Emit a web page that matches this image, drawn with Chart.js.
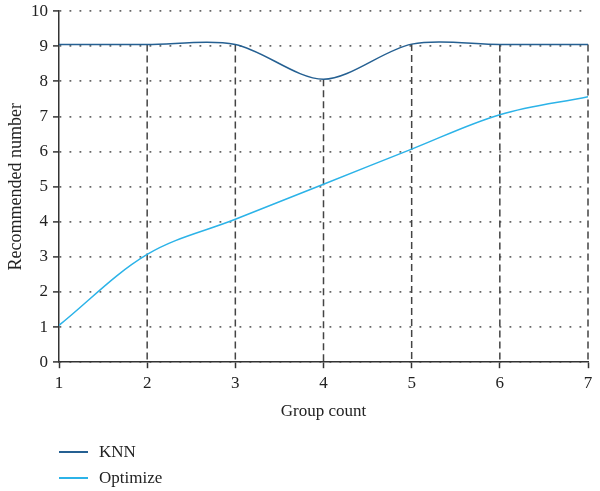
<!DOCTYPE html>
<html>
<head>
<meta charset="utf-8">
<script src="https://cdn.jsdelivr.net/npm/chart.js@4/dist/chart.umd.min.js"></script>
<style>
  body { margin: 0; background: #fff; }
  #wrap { position: relative; width: 600px; height: 491px; }
  #legend { position: absolute; left: 59px; top: 439px; font: 17px "Liberation Serif", serif; color: #222; }
  #legend div { height: 26px; display: flex; align-items: center; }
  #legend span.line { display: inline-block; width: 29px; height: 1.6px; margin-right: 11px; }
</style>
</head>
<body>
<div id="wrap">
  <canvas id="chart" width="600" height="491"></canvas>
  <div id="legend"></div>
</div>
<script>
  // Chart data
  const groupCounts = [1, 2, 3, 4, 5, 6, 7];
  const knnValues = [9.05, 9.05, 9.05, 8.06, 9.06, 9.05, 9.05];
  const optimizeValues = [1.05, 3.07, 4.07, 5.07, 6.07, 7.05, 7.56];
  const seriesNames = ["KNN", "Optimize"];
  const seriesColors = ["#256092", "#2cb3e8"];

  const serif = "'Liberation Serif', 'Times New Roman', serif";

  // Dashed drop lines from the KNN curve down to the x axis
  const dropLines = {
    id: "dropLines",
    beforeDatasetsDraw(chart) {
      const ctx = chart.ctx;
      const meta = chart.getDatasetMeta(0);
      const bottom = chart.chartArea.bottom;
      ctx.save();
      ctx.strokeStyle = "#444";
      ctx.lineWidth = 1.5;
      ctx.setLineDash([7, 4]);
      meta.data.forEach((pt, i) => {
        if (i === 0) return;
        ctx.beginPath();
        ctx.moveTo(pt.x, pt.y);
        ctx.lineTo(pt.x, bottom);
        ctx.stroke();
      });
      ctx.restore();
    }
  };

  const ctx = document.getElementById("chart").getContext("2d");
  new Chart(ctx, {
    type: "line",
    data: {
      datasets: [
        {
          label: seriesNames[0],
          data: groupCounts.map((x, i) => ({ x: x, y: knnValues[i] })),
          borderColor: seriesColors[0],
          borderWidth: 1.5,
          pointRadius: 0,
          tension: 0.3,
        },
        {
          label: seriesNames[1],
          data: groupCounts.map((x, i) => ({ x: x, y: optimizeValues[i] })),
          borderColor: seriesColors[1],
          borderWidth: 1.5,
          pointRadius: 0,
          tension: 0.35,
        },
      ],
    },
    options: {
      responsive: false,
      animation: false,
      layout: { padding: { top: 2, right: 12, left: 5, bottom: 69 } },
      plugins: { legend: { display: false }, tooltip: { enabled: false } },
      scales: {
        x: {
          type: "linear",
          min: 1,
          max: 7,
          ticks: { stepSize: 1, color: "#222", padding: 5, font: { family: serif, size: 17 } },
          grid: { drawOnChartArea: false, drawTicks: true, tickLength: 6, tickColor: "#333", tickWidth: 1.5 },
          border: { color: "#333", width: 1.5 },
          title: { display: true, text: "Group count", color: "#222", padding: { top: 3, bottom: 0 }, font: { family: serif, size: 17 } },
        },
        y: {
          min: 0,
          max: 10,
          ticks: { stepSize: 1, color: "#222", padding: 5, font: { family: serif, size: 17, lineHeight: 0.72 } },
          grid: { color: "#666", lineWidth: 1.8, tickLength: 6, tickColor: "#333", tickWidth: 1.5, tickBorderDash: [] },
          border: { color: "#333", width: 1.5, dash: [1.8, 8.2] },
          title: { display: true, text: "Recommended number", color: "#222", padding: { top: 0, bottom: 8 }, font: { family: serif, size: 18 } },
          afterFit(scale) { scale.width = 54; },
        },
      },
    },
    plugins: [dropLines],
  });

  // Vertical legend below the chart
  const legend = document.getElementById("legend");
  seriesNames.forEach((name, i) => {
    const row = document.createElement("div");
    const line = document.createElement("span");
    line.className = "line";
    line.style.background = seriesColors[i];
    row.appendChild(line);
    row.appendChild(document.createTextNode(name));
    legend.appendChild(row);
  });
</script>
</body>
</html>
